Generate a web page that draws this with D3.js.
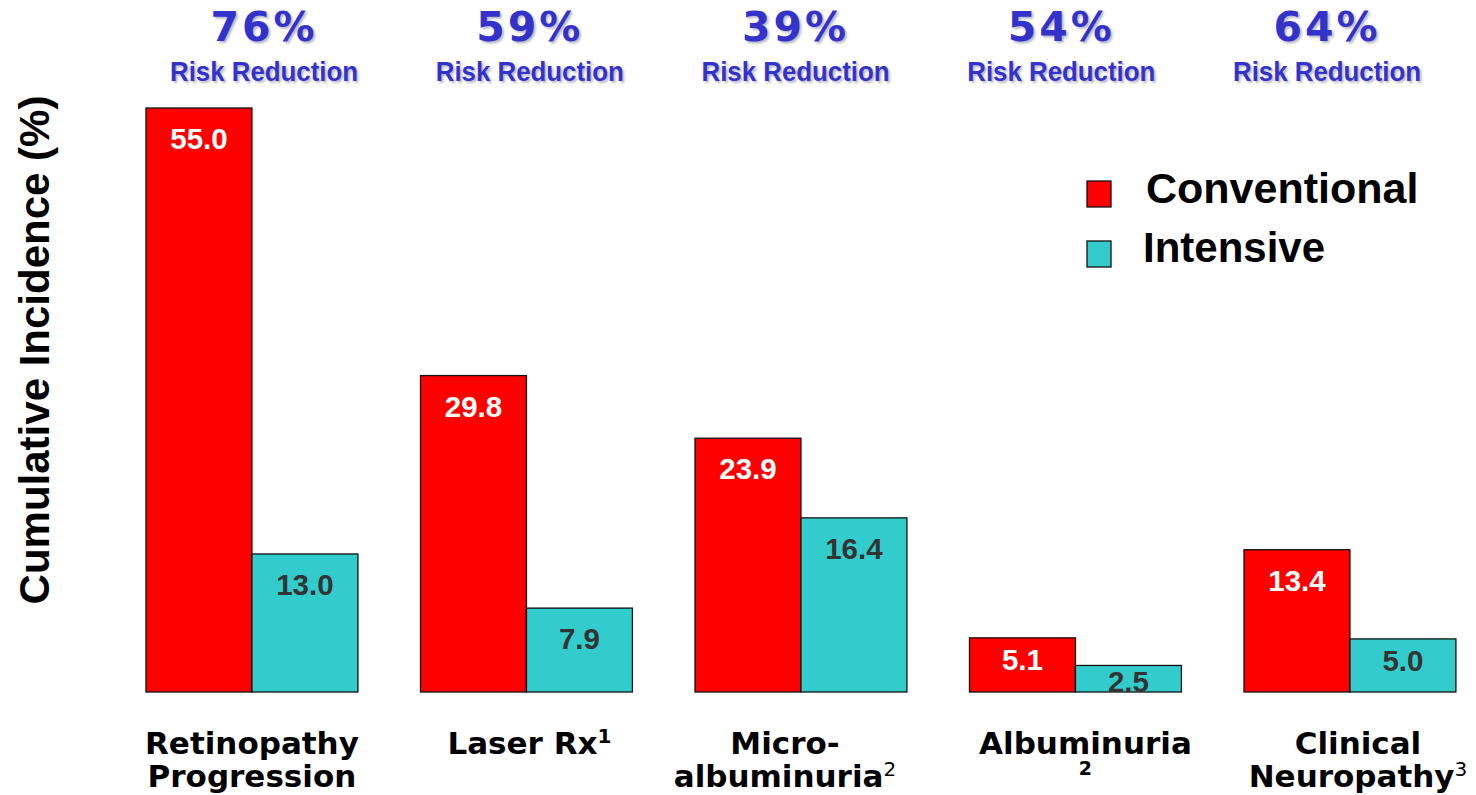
<!DOCTYPE html>
<html>
<head>
<meta charset="utf-8">
<script src="https://cdn.jsdelivr.net/npm/d3@7"></script>
<style>
  html, body { margin: 0; padding: 0; background: #fff; }
  svg { display: block; }
</style>
</head>
<body>
<div id="chart"></div>
<script>
// Cumulative incidence of complications, conventional vs intensive therapy
const categories = ["Retinopathy Progression", "Laser Rx", "Micro-albuminuria", "Albuminuria", "Clinical Neuropathy"];
const seriesNames = ["Conventional", "Intensive"];
const conventional = [55.0, 29.8, 23.9, 5.1, 13.4];
const intensive = [13.0, 7.9, 16.4, 2.5, 5.0];
const riskReduction = ["76%", "59%", "39%", "54%", "64%"];
const riskCaption = "Risk Reduction";
const yTitle = "Cumulative Incidence (%)";
// Axis label lines: [main text, superscript, small marker on its own line]
const labelLines = [
  [["Retinopathy", ""], ["Progression", ""]],
  [["Laser Rx", "1"]],
  [["Micro-", ""], ["albuminuria", "2"]],
  [["Albuminuria", ""], ["", "", "2"]],
  [["Clinical", ""], ["Neuropathy", "3"]]
];

const W = 1476, H = 795;
const colors = { Conventional: "#FF0000", Intensive: "#33CCCC" };
const valueColors = { Conventional: "#FFFFFF", Intensive: "#333333" };

const svg = d3.select("#chart").append("svg")
  .attr("width", W).attr("height", H)
  .attr("viewBox", `0 0 ${W} ${H}`);

const defs = svg.append("defs");
defs.append("filter").attr("id", "soft")
  .attr("x", "-10%").attr("y", "-10%").attr("width", "120%").attr("height", "130%")
  .append("feGaussianBlur").attr("stdDeviation", 1.2);

const x0 = d3.scaleBand().domain(categories)
  .range([114.7, 1487.2]).paddingInner(0.228).paddingOuter(0.114);
const x1 = d3.scaleBand().domain(seriesNames).range([0, x0.bandwidth()]);
const y = d3.scaleLinear().domain([0, 55]).range([692, 108]);
const xa = d3.scalePoint().domain(categories).range([264, 1327]);

const rows = categories.map((c, i) => ({
  category: c,
  values: [
    { series: "Conventional", value: conventional[i] },
    { series: "Intensive", value: intensive[i] }
  ]
}));

// Bars
const groups = svg.append("g").selectAll("g.group").data(rows).join("g")
  .attr("class", "group")
  .attr("transform", d => `translate(${x0(d.category)},0)`);

groups.selectAll("rect").data(d => d.values).join("rect")
  .attr("x", d => x1(d.series))
  .attr("y", d => y(d.value))
  .attr("width", x1.bandwidth())
  .attr("height", d => y(0) - y(d.value))
  .attr("fill", d => colors[d.series])
  .attr("stroke", "#111")
  .attr("stroke-width", 1.3);

// Value labels inside the bars
groups.selectAll("text.val").data(d => d.values).join("text")
  .attr("class", "val")
  .attr("x", d => x1(d.series) + x1.bandwidth() / 2)
  .attr("y", d => {
    const top = y(d.value), h = y(0) - top;
    return h >= 60 ? top + 41 : Math.min(top + 32, y(0));
  })
  .attr("text-anchor", "middle")
  .attr("font-family", "'Liberation Sans', Arial, sans-serif")
  .attr("font-weight", "bold")
  .attr("font-size", 29.5)
  .attr("fill", d => valueColors[d.series])
  .text(d => d.value.toFixed(1));

// Risk reduction headers with soft shadow
const heads = svg.append("g").selectAll("g.head").data(categories).join("g")
  .attr("class", "head")
  .attr("transform", c => `translate(${xa(c)},0)`);

[["#b8b8c8", 2, "url(#soft)"], ["#3333CC", 0, null]].forEach(([fill, off, filt]) => {
  heads.append("text")
    .attr("x", off).attr("y", 41 + off)
    .attr("text-anchor", "middle")
    .attr("font-family", "'DejaVu Sans', Verdana, sans-serif")
    .attr("font-weight", "bold")
    .attr("font-size", 41)
    .attr("letter-spacing", 3)
    .attr("fill", fill)
    .attr("filter", filt)
    .text((c, i) => riskReduction[i]);
  heads.append("text")
    .attr("x", off).attr("y", 81 + off)
    .attr("text-anchor", "middle")
    .attr("font-family", "'Liberation Sans', Arial, sans-serif")
    .attr("font-weight", "bold")
    .attr("font-size", 28)
    .attr("textLength", 188)
    .attr("lengthAdjust", "spacingAndGlyphs")
    .attr("fill", fill)
    .attr("filter", filt)
    .text(riskCaption);
});

// Y axis title
svg.append("text")
  .attr("transform", "translate(49,350) rotate(-90)")
  .attr("text-anchor", "middle")
  .attr("font-family", "'Liberation Sans', Arial, sans-serif")
  .attr("font-weight", "bold")
  .attr("font-size", 42)
  .attr("fill", "#000")
  .text(yTitle);

// Category labels, slightly nudged from each group's centre
const labelNudge = [0, 3, -16, 10, 8];
const cats = svg.append("g").selectAll("text.cat").data(categories).join("text")
  .attr("class", "cat")
  .attr("text-anchor", "middle")
  .attr("font-family", "'DejaVu Sans', Verdana, sans-serif")
  .attr("font-weight", "bold")
  .attr("font-size", 31)
  .attr("fill", "#000");

cats.each(function (c, i) {
  const t = d3.select(this);
  const cx = x0(c) + x0.bandwidth() / 2 + labelNudge[i];
  labelLines[i].forEach((line, j) => {
    const [main, sup, below] = line;
    const yy = 754 + j * 33;
    if (below) {
      t.append("tspan").attr("x", cx).attr("y", yy - 12)
        .attr("font-size", 19).text(below);
      return;
    }
    t.append("tspan").attr("x", cx).attr("y", yy).text(main);
    if (sup) {
      t.append("tspan").attr("dy", -11)
        .attr("font-size", 20)
        .attr("font-weight", i === 1 ? "bold" : "normal")
        .text(sup);
    }
  });
});

// Legend
const legend = svg.append("g").attr("transform", "translate(1087,181)");
const legendText = [[1146 - 1087, 22], [1143 - 1087, 81]];
const legendSize = [43, 42];
seriesNames.forEach((s, i) => {
  legend.append("rect")
    .attr("x", 0).attr("y", i * 60)
    .attr("width", 24).attr("height", 26)
    .attr("fill", colors[s])
    .attr("stroke", "#111").attr("stroke-width", 1.3);
  legend.append("text")
    .attr("x", legendText[i][0]).attr("y", legendText[i][1])
    .attr("font-family", "'Liberation Sans', Arial, sans-serif")
    .attr("font-weight", "bold")
    .attr("font-size", legendSize[i])
    .attr("fill", "#000")
    .text(s);
});
</script>
</body>
</html>
